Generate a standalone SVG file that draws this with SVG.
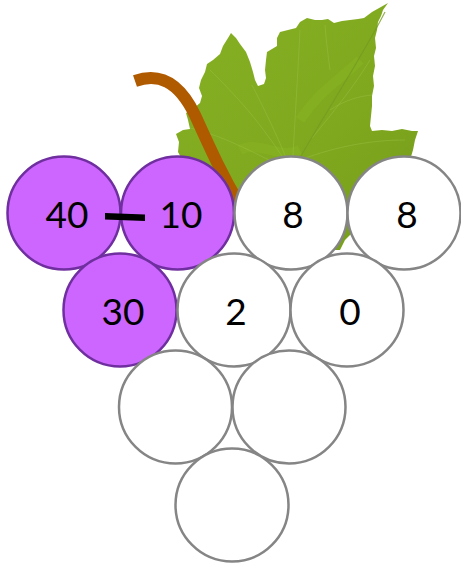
<svg xmlns="http://www.w3.org/2000/svg" width="461" height="565" viewBox="0 0 461 565">
  <defs>
    <linearGradient id="leafFill" x1="0" y1="0" x2="1" y2="1">
      <stop offset="0" stop-color="#86B024"/>
      <stop offset="0.6" stop-color="#7FA81E"/>
      <stop offset="1" stop-color="#759B1A"/>
    </linearGradient>
    <style>
      .grape circle { stroke-width: 2.5; }
      .filled circle { fill: #CC66FF; stroke: #6F2F9F; }
      .empty circle { fill: #FFFFFF; stroke: #858585; }
      .grape text { font-family: Lato, "Liberation Sans", Arial, sans-serif; font-size: 37px; fill: #000; text-anchor: middle; }
      .vein { fill: none; stroke: #9CC044; stroke-width: 1; opacity: 0.45; }
    </style>
  </defs>

  <!-- vine leaf -->
  <g id="leaf">
    <path fill="url(#leafFill)" d="M388,3 L383,10 L381,16 L378,22 L377,30 L375,38 L376,48 L374,56 L375,66 L373,76 L374,86 L372,96 L372,106 L371,116 L370,126 L372,131 L382,130 L392,131 L402,129 L412,131 L418,131 L415,140 L413,150 L410,160 L400,175 L390,195 L370,215 L345,240 L340,250 L300,250 L250,200 L195,180 L185,165 L178,152 L179,142 L176,134 L183,130 L190,129 L188,120 L186,113 L194,108 L200,103 L202,96 L199,88 L201,80 L205,72 L207,64 L213,60 L220,54 L223,46 L228,38 L231,33 L236,38 L240,44 L246,52 L250,62 L253,72 L255,80 L258,86 L264,84 L266,78 L265,70 L266,60 L267,52 L272,49 L277,46 L277,38 L280,32 L288,30 L296,28 L300,22 L307,18 L315,20 L322,20 L328,19 L334,23 L342,21 L350,20 L358,19 L364,18 L372,12 Z"/>
    <path d="M300,120 C320,90 340,80 360,60 M240,150 C260,140 280,160 300,150" fill="none" stroke="#8DBA22" stroke-width="10" opacity="0.35"/>
    <path class="vein" d="M292,172 C320,120 355,70 385,12"/>
    <path class="vein" d="M292,172 C275,130 262,105 252,85"/>
    <path class="vein" d="M292,172 C260,120 235,95 210,70"/>
    <path class="vein" d="M292,172 C250,150 220,135 190,128"/>
    <path class="vein" d="M292,172 C295,120 298,70 300,30"/>
    <path class="vein" d="M312,138 C335,110 355,85 370,60"/>
    <path class="vein" d="M330,110 C345,100 360,96 372,95"/>
    <path class="vein" d="M300,160 C340,145 375,140 405,140"/>
    <path class="vein" d="M330,70 C328,55 326,40 325,25"/>
    <path d="M292,172 C320,120 355,70 385,12" fill="none" stroke="#6A8F18" stroke-width="1.2" opacity="0.6"/>
  </g>

  <!-- stem -->
  <g id="stem">
    <path d="M135,81 C158,73 178,80 195,115 C210,148 222,175 240,205" fill="none" stroke="#B05A00" stroke-width="12"/>
  </g>

  <!-- grapes, top row to bottom -->
  <g id="grape-40" class="grape filled"><circle cx="64" cy="213" r="56.5"/><text x="67" y="228">40</text></g>
  <g id="grape-10" class="grape filled"><circle cx="177.5" cy="213" r="56.5"/><text x="181" y="228">10</text></g>
  <g id="grape-8a" class="grape empty"><circle cx="291" cy="213" r="56.5"/><text x="293" y="228">8</text></g>
  <g id="grape-8b" class="grape empty"><circle cx="404" cy="213" r="56.5"/><text x="407" y="228">8</text></g>
  <g id="grape-30" class="grape filled"><circle cx="120" cy="310" r="56.5"/><text x="123" y="325">30</text></g>
  <g id="grape-2" class="grape empty"><circle cx="234" cy="310" r="56.5"/><text x="236" y="325">2</text></g>
  <g id="grape-0" class="grape empty"><circle cx="347" cy="310" r="56.5"/><text x="350" y="325">0</text></g>
  <g id="grape-blank1" class="grape empty"><circle cx="175.5" cy="407" r="56.5"/></g>
  <g id="grape-blank2" class="grape empty"><circle cx="289" cy="407" r="56.5"/></g>
  <g id="grape-blank3" class="grape empty"><circle cx="232" cy="505" r="56.5"/></g>

  <!-- minus sign between 40 and 10 -->
  <g id="connectors">
    <path d="M105,213 L145,214.5 L145,221 L105,219.5 Z" fill="#000"/>
  </g>
</svg>
